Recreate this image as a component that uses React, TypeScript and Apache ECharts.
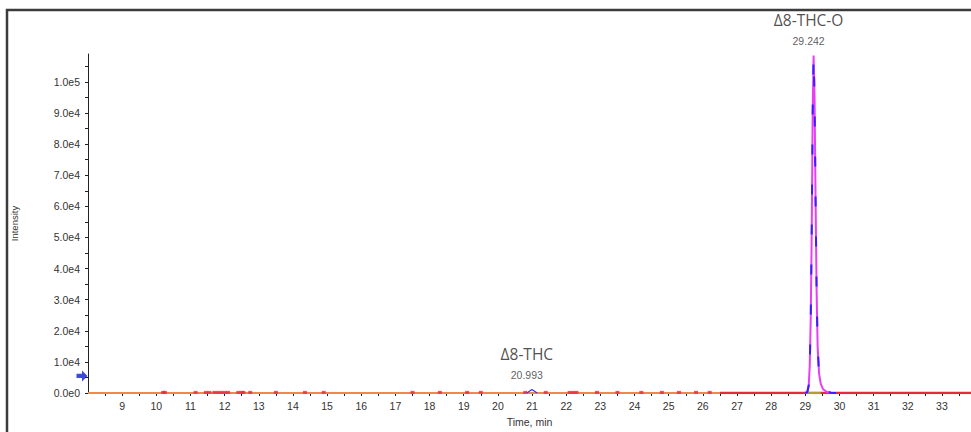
import React, { useEffect, useRef } from "react";
import * as echarts from "echarts";

// Retention time axis (min) and intensity axis
const timeRange = [8, 33.85];
const intensityMax = 109000;

// Main peak (Δ8-THC-O) trace
const peakTime = [29.0, 29.06, 29.1, 29.13, 29.16, 29.19, 29.215, 29.242, 29.27, 29.3, 29.33, 29.36, 29.4, 29.45, 29.52, 29.62, 29.75, 29.9];
const peakIntensity = [0, 300, 2500, 9000, 25000, 55000, 90000, 108500, 95000, 62000, 33000, 15000, 6500, 3000, 1200, 400, 100, 0];

// Small peak (Δ8-THC) trace
const smallPeakTime = [20.85, 20.993, 21.15];
const smallPeakIntensity = [0, 1100, 0];

// Baseline noise specks
const noiseTime = [10.2, 10.25, 11.15, 11.45, 11.55, 11.7, 11.8, 11.9, 12.0, 12.1, 12.4, 12.5, 12.55, 12.75, 13.5, 14.35, 14.9, 17.5, 18.3, 19.1, 19.5, 20.8, 21.4, 22.1, 22.2, 22.3, 22.9, 23.5, 24.2, 24.8, 25.3, 25.8, 26.2];
const denseNoiseRange = [26.5, 33.85];

// Peak annotations
const peakNames = ["Δ8-THC-O", "Δ8-THC"];
const peakRT = [29.242, 20.993];
const peakApex = [108500, 1100];

// Threshold arrow level
const arrowLevel = 5500;

const expLabel = (v: number) => v.toExponential(1).replace("e+", "e");

export default function App() {
  const ref = useRef<HTMLDivElement>(null);
  useEffect(() => {
    if (!ref.current) return;
    const chart = echarts.init(ref.current, undefined, { renderer: "svg" });
    const peakData = peakTime.map((t, i) => [t, peakIntensity[i]]);
    const txt = "#333";
    const tickFont = "Liberation Sans";
    chart.setOption({
      animation: false,
      grid: { left: 88, right: 0, top: 54, bottom: 39, containLabel: false },
      graphic: [
        {
          type: "rect",
          z: -10,
          shape: { x: 7, y: 10, width: 1000, height: 500 },
          style: { fill: "none", stroke: "#3c3c3c", lineWidth: 2.5 },
        },
      ],
      xAxis: {
        type: "value",
        min: timeRange[0],
        max: timeRange[1],
        interval: 0.5,
        name: "Time, min",
        nameLocation: "middle",
        nameGap: 23,
        nameTextStyle: { fontFamily: tickFont, fontSize: 10.5, color: txt },
        splitLine: { show: false },
        axisLine: { lineStyle: { color: "#222", width: 1 } },
        axisTick: { length: 3, lineStyle: { color: "#222" } },
        axisLabel: {
          margin: 7,
          fontFamily: tickFont,
          fontSize: 10.5,
          color: txt,
          showMinLabel: false,
          showMaxLabel: false,
          formatter: (v: number) => (Number.isInteger(v) ? String(v) : ""),
        },
      },
      yAxis: {
        type: "value",
        min: 0,
        max: intensityMax,
        interval: 5000,
        name: "Intensity",
        nameLocation: "middle",
        nameGap: 69,
        nameRotate: 90,
        nameTextStyle: { fontFamily: tickFont, fontSize: 9.5, color: txt },
        splitLine: { show: false },
        axisLine: { show: true, lineStyle: { color: "#222", width: 1 } },
        axisTick: { show: true, length: 3, lineStyle: { color: "#222" } },
        axisLabel: {
          margin: 8,
          fontFamily: tickFont,
          fontSize: 10.5,
          color: txt,
          showMaxLabel: false,
          formatter: (v: number) => (v % 10000 === 0 ? expLabel(v) : ""),
        },
      },
      series: [
        {
          name: "baseline",
          type: "line",
          symbol: "none",
          data: [[timeRange[0], 0], [timeRange[1], 0]],
          lineStyle: { color: "#f08848", width: 2 },
          z: 2,
        },
        {
          name: "dense noise",
          type: "line",
          symbol: "none",
          data: [[denseNoiseRange[0], 0], [denseNoiseRange[1], 0]],
          lineStyle: { color: "#e8283c", width: 2.5 },
          z: 3,
        },
        {
          name: "noise",
          type: "scatter",
          symbol: "rect",
          symbolSize: [4, 3],
          data: noiseTime.map((t) => [t, 200]),
          itemStyle: { color: "#e8283c" },
          z: 3,
        },
        {
          name: "peak base",
          type: "line",
          symbol: "none",
          data: [[29.0, 0], [29.45, 0]],
          lineStyle: { color: "#b0a030", width: 2 },
          z: 4,
        },
        {
          name: "Δ8-THC-O",
          type: "line",
          symbol: "none",
          data: peakData,
          lineStyle: { color: "#e640f5", width: 2 },
          z: 5,
        },
        {
          name: "Δ8-THC-O overlay",
          type: "line",
          symbol: "none",
          data: peakData,
          lineStyle: { color: "#3c1cff", width: 2, type: [10, 30] },
          z: 6,
        },
        {
          name: "Δ8-THC",
          type: "line",
          symbol: "none",
          data: smallPeakTime.map((t, i) => [t, smallPeakIntensity[i]]),
          lineStyle: { color: "#3030ff", width: 1.2 },
          z: 6,
        },
        {
          name: "labels",
          type: "scatter",
          symbol: "circle",
          symbolSize: 1,
          itemStyle: { color: "rgba(0,0,0,0)" },
          data: peakNames.map((n, i) => ({ name: n, value: [peakRT[i], peakApex[i]] })),
          label: {
            show: true,
            position: "top",
            distance: 7,
            offset: [-5, 0],
            formatter: (p: any) => `{a|${p.name}}\n{b|${p.value[0].toFixed(3)}}`,
            rich: {
              a: { fontFamily: "Open Sans", fontSize: 15.5, color: "#222", lineHeight: 28, align: "center" },
              b: { fontFamily: tickFont, fontSize: 10.5, color: txt, lineHeight: 14, align: "center" },
            },
          },
          z: 10,
        },
        {
          name: "threshold",
          type: "scatter",
          clip: false,
          symbol: "path://M0,3 L5,3 L5,0 L10,5 L5,10 L5,7 L0,7 Z",
          symbolSize: [11, 11],
          symbolOffset: [-6, 0],
          data: [[timeRange[0], arrowLevel]],
          itemStyle: { color: "#0a1ed0" },
          z: 10,
        },
      ],
    });
    return () => chart.dispose();
  }, []);
  return (
    <div
      ref={ref}
      style={{ position: "fixed", left: 0, top: 0, width: 971, height: 432, background: "#fff" }}
    />
  );
}
